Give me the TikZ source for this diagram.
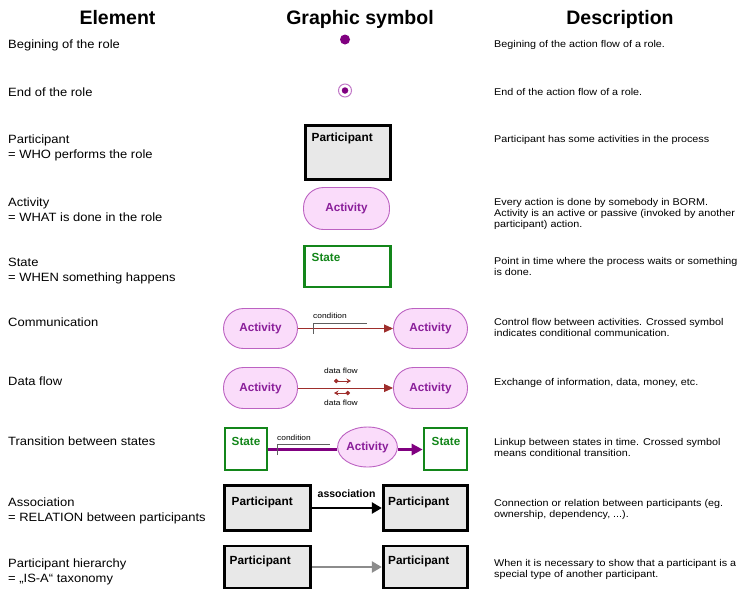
\documentclass[tikz,border=0pt]{standalone}
\usepackage{fontspec}
\setmainfont{Liberation Sans}
\newfontfamily\bodyfont{Liberation Sans}[FakeStretch=1.08]
\newfontfamily\descfont{Liberation Sans}[FakeStretch=1.1]
\newfontfamily\tinyfont{Liberation Sans}[FakeStretch=1.12]
\usetikzlibrary{arrows.meta,shapes.geometric}

\definecolor{bormpurple}{HTML}{800080}
\definecolor{ringpurple}{HTML}{C27AC8}
\definecolor{actfill}{HTML}{FADCFA}
\definecolor{actdraw}{HTML}{BC62C2}
\definecolor{acttext}{HTML}{8A1E9A}
\definecolor{stategreen}{HTML}{13861A}
\definecolor{partfill}{HTML}{E8E8E8}
\definecolor{flowred}{HTML}{9E2E2C}
\definecolor{condgray}{HTML}{5E5E5E}
\definecolor{isagray}{HTML}{8C8C8C}

\tikzset{
  header/.style={font=\fontsize{19.5}{22}\selectfont\bfseries, anchor=base, inner sep=0},
  elem/.style={font=\bodyfont\fontsize{12}{15}\selectfont, anchor=base west, inner sep=0},
  descr/.style={font=\descfont\fontsize{9.8}{11}\selectfont, anchor=base west, inner sep=0},
  actbox/.style={draw=actdraw, fill=actfill, line width=0.9pt, rounded corners=20,
    font=\fontsize{11.7}{13}\selectfont\bfseries, text=acttext, inner sep=0},
  partbox/.style={draw=black, fill=partfill, line width=2.8pt, inner sep=0},
  parttext/.style={font=\fontsize{11.8}{13}\selectfont\bfseries, anchor=base west, inner sep=0},
  statebox/.style={draw=stategreen, fill=white, line width=2.6pt, inner sep=0},
  statetext/.style={font=\fontsize{11.7}{13}\selectfont\bfseries, text=stategreen, anchor=base west, inner sep=0},
  smalltext/.style={font=\tinyfont\fontsize{7.5}{8}\selectfont, anchor=base west, inner sep=0},
  condline/.style={draw=condgray, line width=1pt},
  flow/.style={draw=flowred, line width=0.9pt, -{Triangle[length=9pt,width=8pt]}},
  minidata/.style={draw=flowred, line width=0.8pt, {Circle[length=4.5pt]}-{Stealth[length=4.5pt,width=5pt]}},
}

\begin{document}
\begin{tikzpicture}[x=1pt,y=-1pt]
\useasboundingbox (0,0) rectangle (739,590);

% column headers
\node[header] (hElem) at (117.5,24) {Element};
\node[header] (hSym)  at (360,24) {Graphic symbol};
\node[header] (hDesc) at (620,24) {Description};

% element names
\node[elem] (e1) at (8,48) {Begining of the role};
\node[elem] (e2) at (8,96) {End of the role};
\node[elem] (e3a) at (8,143) {Participant};
\node[elem] (e3b) at (8,158) {= WHO performs the role};
\node[elem] (e4a) at (8,206) {Activity};
\node[elem] (e4b) at (8,221) {= WHAT is done in the role};
\node[elem] (e5a) at (8,266) {State};
\node[elem] (e5b) at (8,281) {= WHEN something happens};
\node[elem] (e6) at (8,326) {Communication};
\node[elem] (e7) at (8,385) {Data flow};
\node[elem] (e8) at (8,445) {Transition between states};
\node[elem] (e9a) at (8,506.5) {Association};
\node[elem] (e9b) at (8,521.5) {= RELATION between participants};
\node[elem] (e10a) at (8,567) {Participant hierarchy};
\node[elem] (e10b) at (8,582) {= „IS-A“ taxonomy};

% descriptions
\node[descr] (d1) at (494,47) {Begining of the action flow of a role.};
\node[descr] (d2) at (494,95) {End of the action flow of a role.};
\node[descr] (d3) at (494,142) {Participant has some activities in the process};
\node[descr] (d4a) at (494,205.5) {Every action is done by somebody in BORM.};
\node[descr] (d4b) at (494,216.5) {Activity is an active or passive (invoked by another};
\node[descr] (d4c) at (494,227.5) {participant) action.};
\node[descr] (d5a) at (494,264) {Point in time where the process waits or something};
\node[descr] (d5b) at (494,275) {is done.};
\node[descr] (d6a) at (494,325) {Control flow between activities. Crossed symbol};
\node[descr] (d6b) at (494,336) {indicates conditional communication.};
\node[descr] (d7) at (494,385) {Exchange of information, data, money, etc.};
\node[descr] (d8a) at (494,445) {Linkup between states in time. Crossed symbol};
\node[descr] (d8b) at (494,456) {means conditional transition.};
\node[descr] (d9a) at (494,506) {Connection or relation between participants (eg.};
\node[descr] (d9b) at (494,517) {ownership, dependency, ...).};
\node[descr] (d10a) at (494,566) {When it is necessary to show that a participant is a};
\node[descr] (d10b) at (494,577) {special type of another participant.};

% begin and end of the role
\node[circle, fill=bormpurple, minimum size=10pt, inner sep=0] (start) at (345,39.5) {};
\node[circle, draw=ringpurple, line width=1pt, minimum size=13pt, inner sep=0] (endo) at (345,90.5) {};
\node[circle, fill=bormpurple, minimum size=6.5pt, inner sep=0] (endi) at (345,90.5) {};

% participant
\node[partbox, minimum width=85.5pt, minimum height=54pt] (p0) at (348,152.5) {};
\node[parttext] (p0t) at (311.5,141.5) {Participant};

% activity
\node[actbox, minimum width=86pt, minimum height=42pt] (a0) at (346.5,208.5) {Activity};

% state
\node[statebox, minimum width=86pt, minimum height=41pt] (s0) at (347.5,266.5) {};
\node[statetext] (s0t) at (311.5,261.5) {State};

% communication
\node[actbox, minimum width=74pt, minimum height=40pt] (c1) at (260.5,328.5) {Activity};
\node[actbox, minimum width=74pt, minimum height=40pt] (c2) at (430.5,328.5) {Activity};
\draw[flow] (c1.east) -- (c2.west);
\node[smalltext] (ccond) at (313,318) {condition};
\coordinate (cb1) at (313.5,333.5);
\coordinate (cb2) at (313.5,323.5);
\coordinate (cb3) at (367,323.5);
\draw[condline] (cb1) -- (cb2) -- (cb3);

% data flow
\node[actbox, minimum width=74pt, minimum height=41pt] (f1) at (260.5,388) {Activity};
\node[actbox, minimum width=74pt, minimum height=41pt] (f2) at (430.5,388) {Activity};
\draw[flow] (f1.east) -- (f2.west);
\node[smalltext] (fd1) at (324,373.5) {data flow};
\node[smalltext] (fd2) at (324,405) {data flow};
\coordinate (fa1) at (334,381);
\coordinate (fa2) at (351,381);
\coordinate (fb1) at (350,393);
\coordinate (fb2) at (334,393);
\draw[minidata] (fa1) -- (fa2);
\draw[minidata] (fb1) -- (fb2);

% transition between states
\node[statebox, minimum width=42pt, minimum height=42pt] (t1) at (246,449) {};
\node[statetext] (t1t) at (231.5,445) {State};
\node[draw=actdraw, fill=actfill, line width=0.9pt, ellipse, minimum width=55pt, minimum height=40pt, inner sep=0,
  font=\fontsize{11.7}{13}\selectfont\bfseries, text=acttext] (t2) at (367.5,447) {Activity};
\node[statebox, minimum width=43pt, minimum height=42pt] (t3) at (445.5,449) {};
\node[statetext] (t3t) at (431.5,445) {State};
\coordinate (tl) at (367.5,449.5);
\draw[draw=bormpurple, line width=3pt] (t1.east |- tl) -- (t2.west |- tl);
\draw[draw=bormpurple, line width=3pt, -{Triangle[length=11pt,width=11pt]}] (t2.east |- tl) -- (t3.west |- tl);
\node[smalltext] (tcond) at (277,440) {condition};
\coordinate (tb1) at (277,455);
\coordinate (tb2) at (277,444.5);
\coordinate (tb3) at (329.5,444.5);
\draw[condline] (tb1) -- (tb2) -- (tb3);

% association
\node[partbox, minimum width=86pt, minimum height=45pt] (as1) at (267.5,508) {};
\node[parttext] (as1t) at (231.5,505) {Participant};
\node[partbox, minimum width=84.5pt, minimum height=45pt] (as2) at (425.5,508) {};
\node[parttext] (as2t) at (388,505) {Participant};
\draw[black, line width=2.4pt, -{Triangle[length=10pt,width=11pt]}] (as1.east) -- (as2.west);
\node[font=\fontsize{10.5}{12}\selectfont\bfseries, anchor=base west, inner sep=0] (asl) at (317.5,497.5) {association};

% participant hierarchy
\node[partbox, minimum width=86pt, minimum height=42pt] (h1) at (267.5,567) {};
\node[parttext] (h1t) at (229.5,564) {Participant};
\node[partbox, minimum width=84.5pt, minimum height=42pt] (h2) at (425.5,567) {};
\node[parttext] (h2t) at (388,564) {Participant};
\draw[draw=isagray, line width=2.4pt, -{Triangle[length=10pt,width=11pt]}] (h1.east) -- (h2.west);

\end{tikzpicture}
\end{document}
